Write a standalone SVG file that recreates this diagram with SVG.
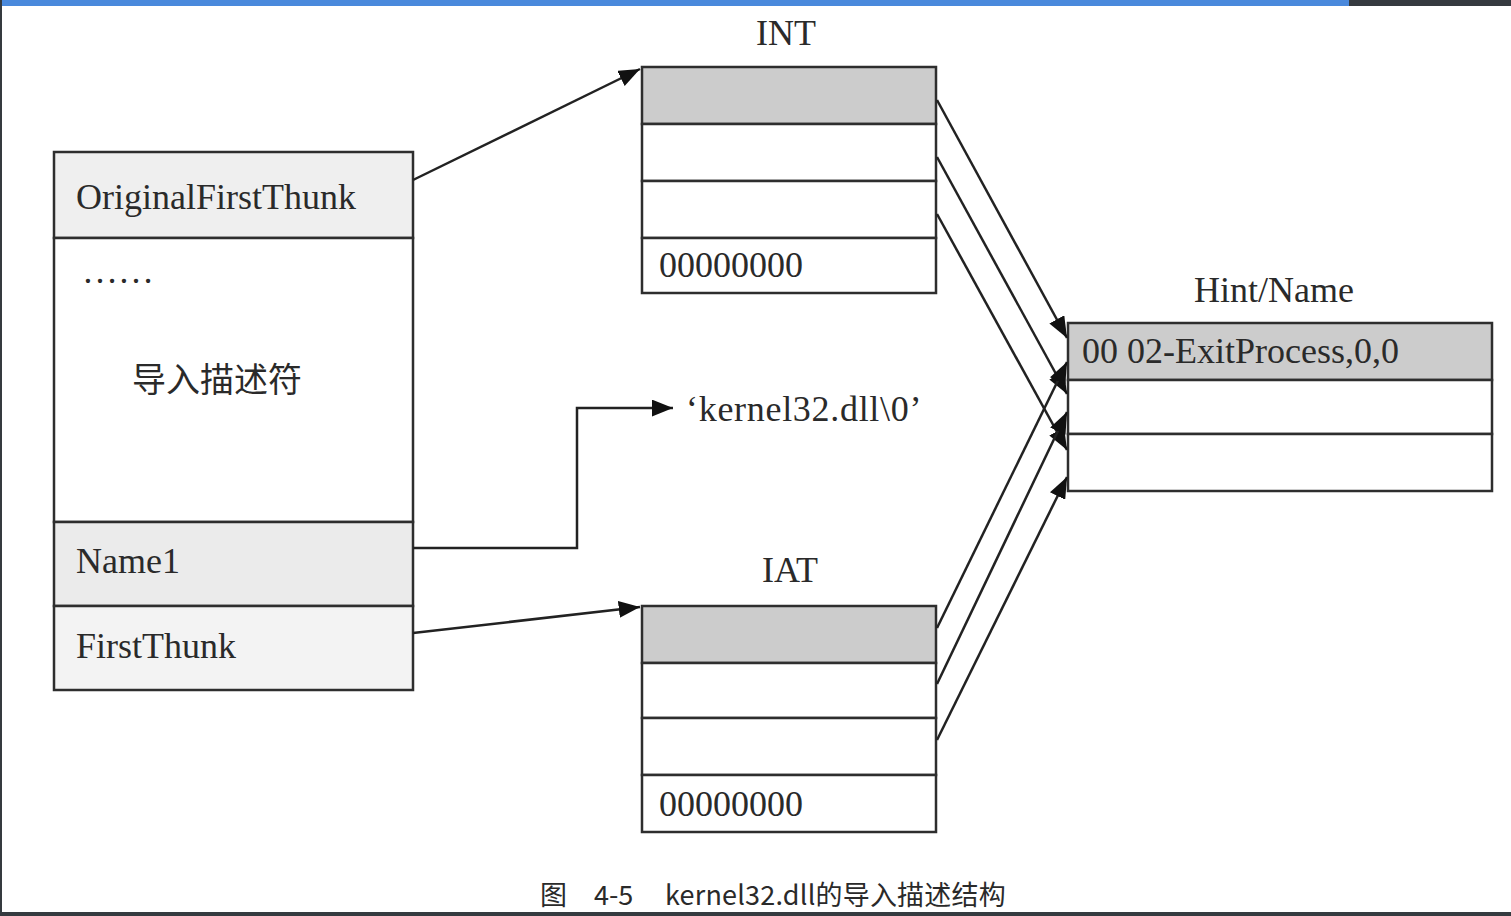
<svg xmlns="http://www.w3.org/2000/svg" width="1511" height="916" viewBox="0 0 1511 916">
<style>
.box{stroke:#2e2e2e;stroke-width:2.5;}
.t{font-family:"Liberation Serif","Times New Roman",serif;font-size:36px;fill:#2a2a2a;}
.cjk{font-family:"Noto Sans CJK SC","Noto Sans",sans-serif;fill:#2a2a2a;}
.ln{fill:none;stroke:#222;stroke-width:2.5;}
</style>
<defs>
<marker id="ah" viewBox="0 0 10 8" refX="10" refY="4" markerWidth="8.5" markerHeight="6.8" markerUnits="strokeWidth" orient="auto">
<path d="M0,0 L10,4 L0,8 Z" fill="#111"/>
</marker>
</defs>
<rect x="0" y="0" width="1511" height="916" fill="#ffffff"/>
<rect x="0" y="0" width="1349" height="6" fill="#4a89dc"/>
<rect x="1349" y="0" width="162" height="6" fill="#353a3f"/>
<rect x="0" y="0" width="2" height="916" fill="#353a3f"/>
<rect x="0" y="912" width="1511" height="4" fill="#353a3f"/>

<g id="descriptor">
<rect class="box" x="54" y="152" width="359" height="86" fill="#efefef"/>
<rect class="box" x="54" y="238" width="359" height="284" fill="#ffffff"/>
<rect class="box" x="54" y="522" width="359" height="84" fill="#ebebeb"/>
<rect class="box" x="54" y="606" width="359" height="84" fill="#f3f3f3"/>
<text class="t" x="76" y="209">OriginalFirstThunk</text>
<text class="t" x="82" y="283">……</text>
<text class="cjk" x="217" y="392" font-size="34" text-anchor="middle">导入描述符</text>
<text class="t" x="76" y="573">Name1</text>
<text class="t" x="76" y="658">FirstThunk</text>
</g>

<g id="int">
<text class="t" x="786" y="45" text-anchor="middle">INT</text>
<rect class="box" x="642" y="67" width="294" height="57" fill="#cccccc"/>
<rect class="box" x="642" y="124" width="294" height="57" fill="#ffffff"/>
<rect class="box" x="642" y="181" width="294" height="57" fill="#ffffff"/>
<rect class="box" x="642" y="238" width="294" height="55" fill="#ffffff"/>
<text class="t" x="659" y="277">00000000</text>
</g>

<g id="iat">
<text class="t" x="790" y="582" text-anchor="middle">IAT</text>
<rect class="box" x="642" y="606" width="294" height="57" fill="#cccccc"/>
<rect class="box" x="642" y="663" width="294" height="55" fill="#ffffff"/>
<rect class="box" x="642" y="718" width="294" height="57" fill="#ffffff"/>
<rect class="box" x="642" y="775" width="294" height="57" fill="#ffffff"/>
<text class="t" x="659" y="816">00000000</text>
</g>

<g id="hintname">
<text class="t" x="1274" y="302" text-anchor="middle">Hint/Name</text>
<rect class="box" x="1068" y="323" width="424" height="57" fill="#cccccc"/>
<rect class="box" x="1068" y="380" width="424" height="54" fill="#ffffff"/>
<rect class="box" x="1068" y="434" width="424" height="57" fill="#ffffff"/>
<text class="t" x="1082" y="363">00 02-ExitProcess,0,0</text>
</g>

<g id="dllname">
<text class="t" x="686" y="421" letter-spacing="0.7">‘kernel32.dll\0’</text>
</g>

<g id="connectors">
<line class="ln" x1="413" y1="180" x2="640" y2="69" marker-end="url(#ah)"/>
<polyline class="ln" points="413,548 577,548 577,408 673,408" marker-end="url(#ah)"/>
<line class="ln" x1="413" y1="633" x2="640" y2="607" marker-end="url(#ah)"/>
<line class="ln" x1="937" y1="100" x2="1067" y2="338" marker-end="url(#ah)"/>
<line class="ln" x1="937" y1="157" x2="1067" y2="394" marker-end="url(#ah)"/>
<line class="ln" x1="937" y1="214" x2="1067" y2="450" marker-end="url(#ah)"/>
<line class="ln" x1="937" y1="628" x2="1067" y2="362" marker-end="url(#ah)"/>
<line class="ln" x1="937" y1="684" x2="1067" y2="412" marker-end="url(#ah)"/>
<line class="ln" x1="937" y1="740" x2="1067" y2="477" marker-end="url(#ah)"/>
</g>

<g id="caption">
<text class="cjk" x="540" y="905" font-size="27" fill="#333">图</text>
<text class="cjk" x="594" y="905" font-size="27" fill="#333">4-5</text>
<text class="cjk" x="665" y="905" font-size="27" fill="#333" letter-spacing="0.2">kernel32.dll的导入描述结构</text>
</g>
</svg>
